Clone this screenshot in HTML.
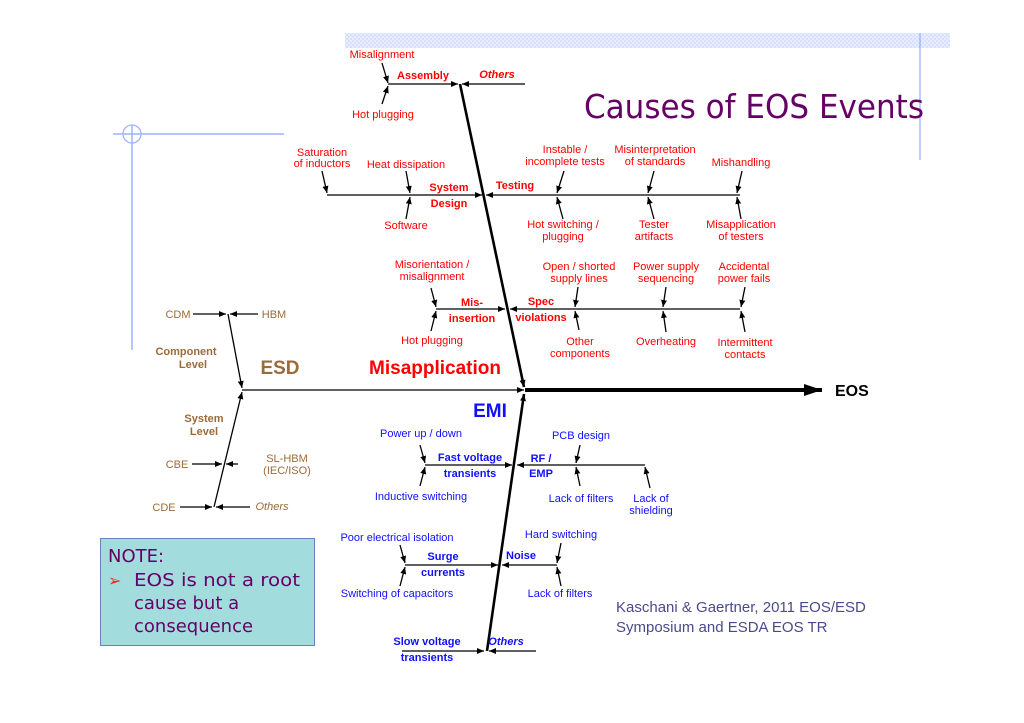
<!DOCTYPE html>
<html><head><meta charset="utf-8"><style>
html,body{margin:0;padding:0;background:#fff;}
svg{display:block;font-family:"Liberation Sans",sans-serif;}
.r{fill:#ff0000;font-size:11px;text-anchor:middle}
.b{fill:#1010ff;font-size:11px;text-anchor:middle}
.n{fill:#9b6b3a;font-size:11px;text-anchor:middle}
.bd{font-weight:bold}
.it{font-style:italic}
line{stroke:#000;stroke-width:1.3}
.a{marker-end:url(#ah)}
</style></head><body>
<svg width="1024" height="723" viewBox="0 0 1024 723" xmlns="http://www.w3.org/2000/svg">
<defs>
<pattern id="hp" width="4" height="4" patternUnits="userSpaceOnUse"><rect width="4" height="4" fill="#e8eeff"/><rect width="2" height="2" fill="#d8e0ff"/><rect x="2" y="2" width="2" height="2" fill="#d8e0ff"/></pattern>
<marker id="ah" markerUnits="userSpaceOnUse" markerWidth="8" markerHeight="8" refX="7" refY="3" orient="auto"><path d="M0,0 L7,3 L0,6 z" fill="#000"/></marker>
<marker id="big" markerUnits="userSpaceOnUse" markerWidth="20" markerHeight="14" refX="18" refY="6" orient="auto"><path d="M0,0 L18,6 L0,12 z" fill="#000"/></marker>
</defs>
<rect x="345" y="33" width="605" height="15" fill="url(#hp)"/>
<line x1="920" y1="33" x2="920" y2="160" style="stroke:#7f9cff;stroke-width:1"/>
<line x1="113" y1="134" x2="284" y2="134" style="stroke:#9fb4ff;stroke-width:1.5"/>
<line x1="132" y1="125" x2="132" y2="350" style="stroke:#9fb4ff;stroke-width:1.5"/>
<circle cx="132" cy="134" r="9" fill="none" stroke="#9fb4ff" stroke-width="1.3"/>

<text x="584" y="118" style="fill:#660066;font-size:33px;font-family:'DejaVu Sans',sans-serif" textLength="340" lengthAdjust="spacingAndGlyphs">Causes of EOS Events</text>

<line x1="242" y1="390" x2="524" y2="390" class="a"/>
<line x1="525" y1="390" x2="822" y2="390" style="stroke-width:4" marker-end="url(#big)"/>
<text x="835" y="396" style="font-weight:bold;font-size:16px">EOS</text>
<line x1="460" y1="84" x2="524" y2="387" style="stroke-width:2.6" class="a"/>
<line x1="487" y1="651" x2="524" y2="394" style="stroke-width:2.6" class="a"/>
<line x1="228" y1="314" x2="242" y2="388" class="a"/>
<line x1="214" y1="507" x2="242" y2="392" class="a"/>

<line x1="388" y1="84" x2="458" y2="84" class="a"/>
<line x1="525" y1="84" x2="462" y2="84" class="a"/>
<line x1="382" y1="63" x2="388" y2="83" class="a"/>
<line x1="382" y1="104" x2="388" y2="86" class="a"/>
<text class="r" x="382" y="58">Misalignment</text>
<text class="r bd" x="423" y="79">Assembly</text>
<text class="r bd it" x="497" y="78">Others</text>
<text class="r" x="383" y="118">Hot plugging</text>

<line x1="327" y1="195" x2="482" y2="195" class="a"/>
<line x1="322" y1="171" x2="327" y2="193" class="a"/>
<line x1="406" y1="171" x2="410" y2="193" class="a"/>
<line x1="406" y1="219" x2="410" y2="197" class="a"/>
<text class="r" x="322" y="156">Saturation</text><text class="r" x="322" y="167">of inductors</text>
<text class="r" x="406" y="168">Heat dissipation</text>
<text class="r bd" x="449" y="191">System</text><text class="r bd" x="449" y="207">Design</text>
<text class="r" x="406" y="229">Software</text>

<line x1="740" y1="195" x2="486" y2="195" class="a"/>
<line x1="564" y1="171" x2="557" y2="193" class="a"/>
<line x1="654" y1="171" x2="648" y2="193" class="a"/>
<line x1="742" y1="171" x2="737" y2="193" class="a"/>
<line x1="563" y1="219" x2="557" y2="197" class="a"/>
<line x1="654" y1="219" x2="648" y2="197" class="a"/>
<line x1="741" y1="219" x2="737" y2="197" class="a"/>
<text class="r bd" x="515" y="189">Testing</text>
<text class="r" x="565" y="153">Instable /</text><text class="r" x="565" y="165">incomplete tests</text>
<text class="r" x="655" y="153">Misinterpretation</text><text class="r" x="655" y="165">of standards</text>
<text class="r" x="741" y="166">Mishandling</text>
<text class="r" x="563" y="228">Hot switching /</text><text class="r" x="563" y="240">plugging</text>
<text class="r" x="654" y="228">Tester</text><text class="r" x="654" y="240">artifacts</text>
<text class="r" x="741" y="228">Misapplication</text><text class="r" x="741" y="240">of testers</text>

<line x1="436" y1="309" x2="505" y2="309" class="a"/>
<line x1="431" y1="288" x2="436" y2="307" class="a"/>
<line x1="431" y1="331" x2="436" y2="311" class="a"/>
<text class="r" x="432" y="268">Misorientation /</text><text class="r" x="432" y="280">misalignment</text>
<text class="r bd" x="472" y="306">Mis-</text><text class="r bd" x="472" y="322">insertion</text>
<text class="r" x="432" y="344">Hot plugging</text>

<line x1="740" y1="309" x2="510" y2="309" class="a"/>
<line x1="578" y1="287" x2="575" y2="307" class="a"/>
<line x1="666" y1="287" x2="663" y2="307" class="a"/>
<line x1="745" y1="287" x2="741" y2="307" class="a"/>
<line x1="579" y1="330" x2="575" y2="311" class="a"/>
<line x1="666" y1="332" x2="663" y2="311" class="a"/>
<line x1="745" y1="332" x2="741" y2="311" class="a"/>
<text class="r bd" x="541" y="305">Spec</text><text class="r bd" x="541" y="321">violations</text>
<text class="r" x="579" y="270">Open / shorted</text><text class="r" x="579" y="282">supply lines</text>
<text class="r" x="666" y="270">Power supply</text><text class="r" x="666" y="282">sequencing</text>
<text class="r" x="744" y="270">Accidental</text><text class="r" x="744" y="282">power fails</text>
<text class="r" x="580" y="345">Other</text><text class="r" x="580" y="357">components</text>
<text class="r" x="666" y="345">Overheating</text>
<text class="r" x="745" y="346">Intermittent</text><text class="r" x="745" y="358">contacts</text>

<text x="435" y="374" style="fill:#ff0000;font-weight:bold;font-size:19px;text-anchor:middle">Misapplication</text>

<line x1="193" y1="314" x2="226" y2="314" class="a"/>
<line x1="258" y1="314" x2="230" y2="314" class="a"/>
<line x1="192" y1="464" x2="222" y2="464" class="a"/>
<line x1="238" y1="464" x2="226" y2="464" class="a"/>
<line x1="180" y1="507" x2="212" y2="507" class="a"/>
<line x1="250" y1="507" x2="216" y2="507" class="a"/>
<text class="n" x="178" y="318">CDM</text>
<text class="n" x="274" y="318">HBM</text>
<text class="n bd" x="186" y="355">Component</text><text class="n bd" x="193" y="368">Level</text>
<text x="280" y="374" style="fill:#9b6b3a;font-weight:bold;font-size:19px;text-anchor:middle">ESD</text>
<text class="n bd" x="204" y="422">System</text><text class="n bd" x="204" y="435">Level</text>
<text class="n" x="177" y="468">CBE</text>
<text class="n" x="287" y="462">SL-HBM</text><text class="n" x="287" y="474">(IEC/ISO)</text>
<text class="n" x="164" y="511">CDE</text>
<text class="n it" x="272" y="510">Others</text>

<text x="490" y="417" style="fill:#1010ff;font-weight:bold;font-size:19px;text-anchor:middle">EMI</text>
<line x1="425" y1="465" x2="512" y2="465" class="a"/>
<line x1="420" y1="445" x2="425" y2="463" class="a"/>
<line x1="420" y1="486" x2="425" y2="467" class="a"/>
<text class="b" x="421" y="437">Power up / down</text>
<text class="b bd" x="470" y="461">Fast voltage</text><text class="b bd" x="470" y="477">transients</text>
<text class="b" x="421" y="500">Inductive switching</text>

<line x1="645" y1="465" x2="517" y2="465" class="a"/>
<line x1="580" y1="445" x2="576" y2="463" class="a"/>
<line x1="580" y1="486" x2="576" y2="467" class="a"/>
<line x1="650" y1="488" x2="645" y2="467" class="a"/>
<text class="b bd" x="541" y="462">RF /</text><text class="b bd" x="541" y="477">EMP</text>
<text class="b" x="581" y="439">PCB design</text>
<text class="b" x="581" y="502">Lack of filters</text>
<text class="b" x="651" y="502">Lack of</text><text class="b" x="651" y="514">shielding</text>

<line x1="405" y1="565" x2="498" y2="565" class="a"/>
<line x1="400" y1="545" x2="405" y2="563" class="a"/>
<line x1="400" y1="586" x2="405" y2="567" class="a"/>
<text class="b" x="397" y="541">Poor electrical isolation</text>
<text class="b bd" x="443" y="560">Surge</text><text class="b bd" x="443" y="576">currents</text>
<text class="b" x="397" y="597">Switching of capacitors</text>

<line x1="557" y1="565" x2="502" y2="565" class="a"/>
<line x1="561" y1="543" x2="557" y2="563" class="a"/>
<line x1="561" y1="586" x2="557" y2="567" class="a"/>
<text class="b" x="561" y="538">Hard switching</text>
<text class="b bd" x="521" y="559">Noise</text>
<text class="b" x="560" y="597">Lack of filters</text>

<line x1="402" y1="651" x2="484" y2="651" class="a"/>
<line x1="536" y1="651" x2="489" y2="651" class="a"/>
<text class="b bd" x="427" y="645">Slow voltage</text><text class="b bd" x="427" y="661">transients</text>
<text class="b bd it" x="506" y="645">Others</text>

<rect x="100.5" y="538.5" width="214" height="107" fill="#a2dcdc" stroke="#6a7fbf" stroke-width="1"/>
<g style="fill:#660066;font-size:18px;font-family:'DejaVu Sans',sans-serif">
<text x="108" y="562">NOTE:</text>
<text x="108" y="586" style="fill:#ff2020;font-size:16px">➢</text>
<text x="134" y="586" textLength="166" lengthAdjust="spacingAndGlyphs">EOS is not a root</text>
<text x="134" y="609">cause but a</text>
<text x="134" y="632">consequence</text>
</g>
<g style="fill:#4a4a8a;font-size:15px">
<text x="616" y="612">Kaschani &amp; Gaertner, 2011 EOS/ESD</text>
<text x="616" y="632">Symposium and ESDA EOS TR</text>
</g>
</svg>
</body></html>
